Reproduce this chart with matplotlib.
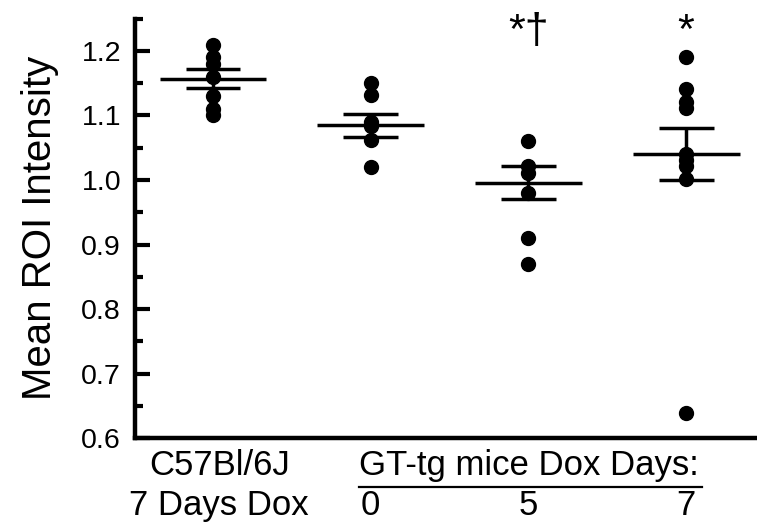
import matplotlib
matplotlib.use("Agg")
import matplotlib.pyplot as plt
import numpy

plt.rcParams["font.family"] = ["Liberation Sans", "DejaVu Sans"]

group_x = [0, 1, 2, 3]
values_wt = [1.21, 1.19, 1.18, 1.16, 1.13, 1.11, 1.10]
values_day0 = [1.151, 1.132, 1.090, 1.083, 1.062, 1.020]
values_day5 = [1.060, 1.021, 1.011, 0.980, 0.910, 0.869]
values_day7 = [1.191, 1.141, 1.121, 1.111, 1.040, 1.031, 1.021, 1.001, 0.639]
group_mean = [1.157, 1.085, 0.996, 1.040]
group_sem = [0.0145, 0.018, 0.0255, 0.040]
significance = ["", "", "*\u2020", "*"]
day_labels = ["0", "5", "7"]

list_values = [values_wt, values_day0, values_day5, values_day7]

fig = plt.figure(figsize=(7.57, 5.25), dpi=100)
ax = fig.add_axes([0.1783, 0.1657, 0.8217, 0.7986])

for x, values in zip(group_x, list_values):
    ax.plot(numpy.full(len(values), x), values, "o", color="black", markersize=10, zorder=3)

half_mean = 0.339
half_cap = 0.174
for x, mean, sem in zip(group_x, group_mean, group_sem):
    ax.hlines(mean, x - half_mean, x + half_mean, color="black", linewidth=2.5)
    ax.hlines([mean - sem, mean + sem], x - half_cap, x + half_cap, color="black", linewidth=2.5)
    ax.vlines(x, mean - sem, mean + sem, color="black", linewidth=2.5)

for x, mark in zip(group_x, significance):
    if mark:
        ax.text(x, 1.230, mark, ha="center", va="center", fontsize=31, clip_on=False)

ax.set_xlim(-0.4946, 3.4496)
ax.set_ylim(0.6, 1.25)
ax.set_yticks(numpy.arange(0.6, 1.21, 0.1))
ax.set_yticks(numpy.arange(0.65, 1.26, 0.1), minor=True)
ax.set_yticklabels(["%.1f" % v for v in numpy.arange(0.6, 1.21, 0.1)], fontsize=20.5)
ax.tick_params(axis="y", which="major", direction="in", length=10.5, width=3, pad=10)
ax.tick_params(axis="y", which="minor", direction="in", length=6, width=3)
ax.set_xticks([])
for side in ["top", "right"]:
    ax.spines[side].set_visible(False)
for side in ["left", "bottom"]:
    ax.spines[side].set_linewidth(3.2)
    ax.spines[side].set_capstyle("projecting")

ax.set_ylabel("Mean ROI Intensity", fontsize=29, labelpad=16)

trans = ax.get_xaxis_transform()
ax.text(0.04, -0.088, "C57Bl/6J", ha="center", va="baseline", fontsize=25, transform=trans)
ax.text(0.04, -0.183, "7 Days Dox", ha="center", va="baseline", fontsize=25, transform=trans)
ax.text(0.926, -0.088, "GT-tg mice Dox Days:", ha="left", va="baseline", fontsize=25, transform=trans)
ax.plot([0.926, 3.10], [-0.117, -0.117], color="black", linewidth=1.6, transform=trans, clip_on=False)
for x, label in zip(group_x[1:], day_labels):
    ax.text(x, -0.183, label, ha="center", va="baseline", fontsize=25, transform=trans)

fig.savefig("out.png", dpi=100)
